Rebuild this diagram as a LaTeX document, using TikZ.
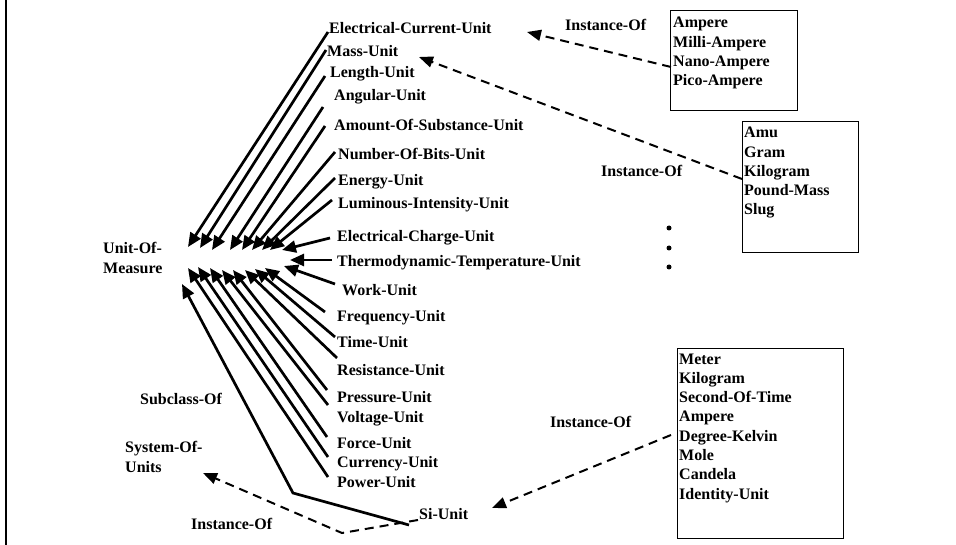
\documentclass[tikz,border=0pt]{standalone}
\usepackage{fontspec}
\setmainfont{Liberation Serif}
\usetikzlibrary{arrows.meta}
\begin{document}
\begin{tikzpicture}[x=1pt,y=-1pt,
  lbl/.style={anchor=base west, inner sep=0pt, font=\bfseries\fontsize{16}{20}\selectfont},
  mlbl/.style={lbl, anchor=north west, align=left},
  sub/.style={line width=2.7pt, -{Triangle[length=14pt,width=12pt]}},
  inst/.style={line width=2pt, dash pattern=on 9pt off 6pt, -{Triangle[length=14pt,width=11pt]}},
  listbox/.style={draw, line width=1.2pt, anchor=north west, inner sep=0pt},
  dot/.style={circle, fill, inner sep=0pt, minimum size=5pt}]
\useasboundingbox (0,0) rectangle (956,545);

% frame line on the left
\draw[line width=2.8pt] (6,0) -- (6,545);

% root class and system of units
\node[mlbl] (uom) at (103,242) {Unit-Of-\\Measure};
\node[mlbl] (sys) at (125,441) {System-Of-\\Units};
\node[lbl] (sub) at (140,404) {Subclass-Of};
\node[lbl] (si) at (419,519) {Si-Unit};
\node[lbl] (instA) at (191,529) {Instance-Of};

% unit subclasses
\node[lbl] (ecu)    at (329,34)  {Electrical-Current-Unit};
\node[lbl] (mass)   at (327,57)  {Mass-Unit};
\node[lbl] (length) at (330,78)  {Length-Unit};
\node[lbl] (ang)    at (334,101) {Angular-Unit};
\node[lbl] (amount) at (334,131) {Amount-Of-Substance-Unit};
\node[lbl] (nob)    at (338,160) {Number-Of-Bits-Unit};
\node[lbl] (energy) at (338,186) {Energy-Unit};
\node[lbl] (lum)    at (338,209) {Luminous-Intensity-Unit};
\node[lbl] (ech)    at (337,242) {Electrical-Charge-Unit};
\node[lbl] (thermo) at (337,267) {Thermodynamic-Temperature-Unit};
\node[lbl] (work)   at (342,296) {Work-Unit};
\node[lbl] (freq)   at (337,322) {Frequency-Unit};
\node[lbl] (time)   at (337,348) {Time-Unit};
\node[lbl] (resist) at (337,375) {Resistance-Unit};
\node[lbl] (press)  at (337,402) {Pressure-Unit};
\node[lbl] (volt)   at (337,422) {Voltage-Unit};
\node[lbl] (force)  at (337,448) {Force-Unit};
\node[lbl] (curr)   at (337,467) {Currency-Unit};
\node[lbl] (power)  at (337,487) {Power-Unit};

% subclass arrows into Unit-Of-Measure
\foreach \n/\sx/\sy/\tx/\ty in {
  ecu/-1/-2/85/5, mass/-1/-7/97/6, length/-5/-2/109/8, ang/-11/6/127/8,
  amount/-9/-5/139/8, nob/-3/-8/149/8, energy/-3/-8/159/8, lum/-6/-9/167/8,
  ech/-7/-4/179/8, thermo/-5/-7/187/18, work/-7/-12/181/24,
  freq/-12/-10/162/26, time/-2/-11/152/27, resist/0/-17/142/28,
  press/-10/-12/130/28, volt/-9/-17/119/28, force/-10/-11/107/26,
  curr/-9/-10/95/25, power/-9/-10/85/26}
  \draw[sub] ([shift={(\sx,\sy)}]\n.base west) -- ([shift={(\tx,\ty)}]uom.north west);

% Si-Unit
\draw[sub] ([shift={(-10,6)}]si.base west) -- (293,493) -- ([shift={(79,42)}]uom.north west);
\draw[inst] ([shift={(-1,1)}]si.base west) -- (342,533) -- ([shift={(78,32)}]sys.north west);

% instance lists
\node[listbox, minimum width=127pt, minimum height=100pt] (box1) at (670,10) {};
\foreach \t [count=\i] in {Ampere,Milli-Ampere,Nano-Ampere,Pico-Ampere}
  \node[lbl] (bA\i) at (673,{28+19.2*(\i-1)}) {\t};
\node[listbox, minimum width=116pt, minimum height=131pt] (box2) at (742,121) {};
\foreach \t [count=\i] in {Amu,Gram,Kilogram,Pound-Mass,Slug}
  \node[lbl] (bB\i) at (744,{138+19.1*(\i-1)}) {\t};
\node[listbox, minimum width=166pt, minimum height=190pt] (box3) at (677,348) {};
\foreach \t [count=\i] in {Meter,Kilogram,Second-Of-Time,Ampere,Degree-Kelvin,Mole,Candela,Identity-Unit}
  \node[lbl] (bC\i) at (679,{364+19.3*(\i-1)}) {\t};

\node[lbl] (instB) at (565,31)  {Instance-Of};
\node[lbl] (instC) at (601,177) {Instance-Of};
\node[lbl] (instD) at (550,427) {Instance-Of};

\draw[inst] ([shift={(1,57)}]box1.north west) -- ([shift={(198,-2)}]ecu.base west);
\draw[inst] ([shift={(0,58)}]box2.north west) -- ([shift={(92,0)}]mass.base west);
\draw[inst] ([shift={(-6,87)}]box3.north west) -- ([shift={(73,-11)}]si.base west);

% continuation dots
\node[dot] (d1) at (669,228) {};
\node[dot] (d2) at (669,248) {};
\node[dot] (d3) at (669,267) {};
\end{tikzpicture}
\end{document}
